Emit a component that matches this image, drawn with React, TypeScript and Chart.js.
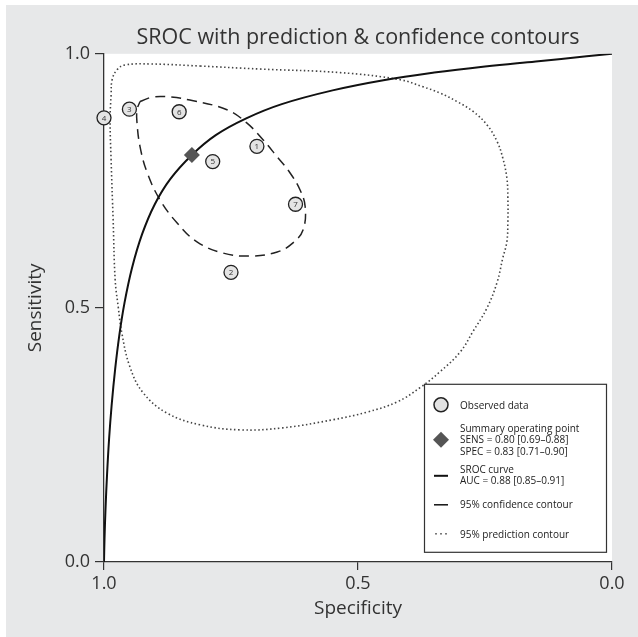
import React, { useEffect, useRef } from 'react';
import { Chart, registerables } from 'chart.js';

Chart.register(...registerables);

// Observed studies
const studyLabels = ['1', '2', '3', '4', '5', '6', '7'];
const studySpec = [0.699, 0.750, 0.950, 1.0, 0.786, 0.852, 0.623];
const studySens = [0.818, 0.570, 0.891, 0.874, 0.788, 0.886, 0.704];

// Summary operating point
const summarySpec = [0.827];
const summarySens = [0.801];

// SROC curve
const srocSpec = [1.0, 0.999, 0.997, 0.994, 0.99, 0.985, 0.978, 0.97, 0.96, 0.945, 0.925, 0.9, 0.87, 0.827, 0.78, 0.72, 0.65, 0.55, 0.45, 0.35, 0.25, 0.15, 0.05, 0.0];
const srocSens = [0.0, 0.045, 0.105, 0.172, 0.242, 0.308, 0.380, 0.445, 0.508, 0.578, 0.645, 0.704, 0.753, 0.801, 0.840, 0.873, 0.901, 0.928, 0.948, 0.963, 0.975, 0.985, 0.995, 1.0];

// 95% confidence contour
const confSpec = [0.929, 0.904, 0.870, 0.831, 0.758, 0.719, 0.687, 0.659, 0.634, 0.614, 0.604, 0.608, 0.628, 0.659, 0.713, 0.766, 0.817, 0.856, 0.890, 0.915, 0.929, 0.935, 0.935, 0.929];
const confSens = [0.906, 0.915, 0.915, 0.909, 0.890, 0.864, 0.831, 0.797, 0.766, 0.732, 0.699, 0.654, 0.628, 0.610, 0.602, 0.608, 0.630, 0.667, 0.713, 0.766, 0.817, 0.864, 0.890, 0.906];

// 95% prediction contour
const predSpec = [0.811, 0.693, 0.535, 0.417, 0.372, 0.339, 0.305, 0.274, 0.246, 0.226, 0.215, 0.207, 0.205, 0.205, 0.207, 0.215, 0.226, 0.246, 0.274, 0.299, 0.339, 0.378, 0.423, 0.482, 0.549, 0.648, 0.732, 0.811, 0.876, 0.923, 0.949, 0.965, 0.972, 0.978, 0.982, 0.986, 0.988, 0.986, 0.984, 0.974, 0.959, 0.909, 0.811];
const predSens = [0.976, 0.970, 0.963, 0.949, 0.935, 0.923, 0.906, 0.887, 0.860, 0.827, 0.795, 0.756, 0.717, 0.669, 0.630, 0.598, 0.551, 0.500, 0.453, 0.413, 0.374, 0.343, 0.315, 0.295, 0.280, 0.264, 0.260, 0.270, 0.293, 0.333, 0.384, 0.451, 0.502, 0.555, 0.673, 0.791, 0.870, 0.919, 0.949, 0.969, 0.978, 0.980, 0.976];

const tickValues = [0, 0.5, 1.0];

const titleText = 'SROC with prediction & confidence contours';
const xTitle = 'Specificity';
const yTitle = 'Sensitivity';

const legendObserved = ['Observed data'];
const legendSummary = ['Summary operating point', 'SENS = 0.80 [0.69\u20130.88]', 'SPEC = 0.83 [0.71\u20130.90]'];
const legendSroc = ['SROC curve', 'AUC = 0.88 [0.85\u20130.91]'];
const legendConf = ['95% confidence contour'];
const legendPred = ['95% prediction contour'];

const FONT = '"Open Sans", "Noto Sans", sans-serif';

const toPoints = (xs: number[], ys: number[]) => xs.map((x, i) => ({ x, y: ys[i] }));

const bgPlugin = {
  id: 'bgPlugin',
  beforeDraw(chart: any) {
    const { ctx, chartArea: a } = chart;
    ctx.save();
    ctx.fillStyle = '#ffffff';
    ctx.fillRect(0, 0, chart.width, chart.height);
    ctx.fillStyle = '#e7e8e9';
    ctx.fillRect(6, 5, chart.width - 6, chart.height - 5);
    ctx.fillStyle = '#ffffff';
    ctx.fillRect(a.left, a.top, a.right - a.left, a.bottom - a.top);
    ctx.restore();
  },
};

const labelPlugin = {
  id: 'labelPlugin',
  afterDatasetsDraw(chart: any) {
    const { ctx } = chart;
    const meta = chart.getDatasetMeta(1);
    ctx.save();
    ctx.font = `8px ${FONT}`;
    ctx.fillStyle = '#333';
    ctx.textAlign = 'center';
    ctx.textBaseline = 'middle';
    meta.data.forEach((el: any, i: number) => {
      ctx.fillText(studyLabels[i], el.x, el.y + 0.5);
    });
    ctx.restore();
  },
};

const legendPlugin = {
  id: 'customLegend',
  afterDraw(chart: any) {
    const { ctx, chartArea: a } = chart;
    const bx = a.left + 320;
    const by = a.top + 330;
    const bw = 182;
    const bh = 168;
    ctx.save();
    ctx.fillStyle = '#ffffff';
    ctx.fillRect(bx, by, bw, bh);
    ctx.strokeStyle = '#333';
    ctx.lineWidth = 1.2;
    ctx.strokeRect(bx + 0.5, by + 0.5, bw, bh);

    const sx = bx + 17;
    const tx = bx + 36;
    ctx.font = `10px ${FONT}`;
    ctx.fillStyle = '#222';
    ctx.textAlign = 'left';
    ctx.textBaseline = 'middle';

    // observed
    ctx.beginPath();
    ctx.arc(sx, by + 21, 7, 0, Math.PI * 2);
    ctx.fillStyle = '#e3e3e3';
    ctx.fill();
    ctx.strokeStyle = '#222';
    ctx.lineWidth = 1.5;
    ctx.stroke();
    ctx.fillStyle = '#222';
    ctx.fillText(legendObserved[0], tx, by + 22);

    // summary diamond
    ctx.beginPath();
    ctx.moveTo(sx, by + 48);
    ctx.lineTo(sx + 8, by + 56);
    ctx.lineTo(sx, by + 64);
    ctx.lineTo(sx - 8, by + 56);
    ctx.closePath();
    ctx.fillStyle = '#555';
    ctx.fill();
    ctx.fillStyle = '#222';
    legendSummary.forEach((t, i) => ctx.fillText(t, tx, by + 45 + i * 11.5));

    // SROC line
    ctx.strokeStyle = '#111';
    ctx.lineWidth = 2;
    ctx.beginPath();
    ctx.moveTo(sx - 7, by + 92);
    ctx.lineTo(sx + 7, by + 92);
    ctx.stroke();
    legendSroc.forEach((t, i) => ctx.fillText(t, tx, by + 86 + i * 11));

    // confidence
    ctx.lineWidth = 1.5;
    ctx.beginPath();
    ctx.moveTo(sx - 7, by + 121);
    ctx.lineTo(sx + 7, by + 121);
    ctx.stroke();
    ctx.fillText(legendConf[0], tx, by + 121);

    // prediction dots
    ctx.fillStyle = '#444';
    for (let k = -1; k <= 1; k++) {
      ctx.fillRect(sx + k * 5 - 0.75, by + 150 - 0.75, 1.5, 1.5);
    }
    ctx.fillStyle = '#222';
    ctx.fillText(legendPred[0], tx, by + 151);
    ctx.restore();
  },
};

export default function App() {
  const canvasRef = useRef<HTMLCanvasElement>(null);

  useEffect(() => {
    if (!canvasRef.current) return;
    const chart = new Chart(canvasRef.current, {
      type: 'scatter',
      data: {
        datasets: [
          {
            label: 'Summary operating point',
            data: toPoints(summarySpec, summarySens),
            pointStyle: 'rectRot',
            pointRadius: 8,
            backgroundColor: '#555',
            borderColor: '#555',
            borderWidth: 0,
            showLine: false,
            clip: false,
            order: 0,
          },
          {
            label: 'Observed data',
            data: toPoints(studySpec, studySens),
            pointStyle: 'circle',
            pointRadius: 7,
            backgroundColor: '#e4e4e4',
            borderColor: '#222',
            borderWidth: 1.3,
            showLine: false,
            clip: false,
            order: 1,
          },
          {
            type: 'line',
            label: 'SROC curve',
            data: toPoints(srocSpec, srocSens),
            pointRadius: 0,
            borderColor: '#111',
            borderWidth: 2,
            tension: 0.4,
            fill: false,
            order: 2,
          },
          {
            type: 'line',
            label: '95% confidence contour',
            data: toPoints(confSpec, confSens),
            pointRadius: 0,
            borderColor: '#222',
            borderWidth: 1.5,
            borderDash: [10, 6],
            tension: 0.4,
            fill: false,
            order: 3,
          },
          {
            type: 'line',
            label: '95% prediction contour',
            data: toPoints(predSpec, predSens),
            pointRadius: 0,
            borderColor: '#444',
            borderWidth: 1.6,
            borderDash: [1.5, 2.5],
            tension: 0.4,
            fill: false,
            order: 4,
          },
        ] as any,
      },
      options: {
        animation: false,
        responsive: false,
        maintainAspectRatio: false,
        layout: { padding: { top: 25, left: 0, right: 26, bottom: 0 } },
        plugins: {
          legend: { display: false },
          tooltip: { enabled: false },
          title: {
            display: true,
            text: titleText,
            fullSize: false,
            color: '#333',
            font: { family: FONT, size: 21.5, weight: 'normal' },
            padding: { top: 0, bottom: 3 },
          },
        },
        scales: {
          x: {
            type: 'linear',
            reverse: true,
            min: 0,
            max: 1,
            afterBuildTicks: (scale: any) => {
              scale.ticks = tickValues.map((v) => ({ value: v }));
            },
            afterFit: (scale: any) => {
              scale.height = 75;
            },
            ticks: {
              color: '#333',
              font: { family: FONT, size: 18 },
              padding: 3,
              maxRotation: 0,
              callback: (v: any) => Number(v).toFixed(1),
            },
            grid: { drawOnChartArea: false, drawTicks: true, tickLength: 8, color: '#333', lineWidth: 1.2 },
            border: { display: true, color: '#333', width: 1.3 },
            title: {
              display: true,
              text: xTitle,
              color: '#333',
              font: { family: FONT, size: 19 },
              padding: { top: 0, bottom: 17 },
            },
          },
          y: {
            type: 'linear',
            min: 0,
            max: 1,
            afterBuildTicks: (scale: any) => {
              scale.ticks = tickValues.map((v) => ({ value: v }));
            },
            afterFit: (scale: any) => {
              scale.width = 104;
            },
            ticks: {
              color: '#333',
              font: { family: FONT, size: 18 },
              padding: 5,
              callback: (v: any) => Number(v).toFixed(1),
            },
            grid: { drawOnChartArea: false, drawTicks: true, tickLength: 9, color: '#333', lineWidth: 1.2 },
            border: { display: true, color: '#333', width: 1.3 },
            title: {
              display: true,
              text: yTitle,
              color: '#333',
              font: { family: FONT, size: 19 },
              padding: { top: 24, bottom: 0 },
            },
          },
        },
      } as any,
      plugins: [bgPlugin, labelPlugin, legendPlugin],
    });
    return () => chart.destroy();
  }, []);

  return (
    <div style={{ position: 'fixed', left: 0, top: 0, width: 638, height: 637 }}>
      <canvas ref={canvasRef} width={638} height={637} style={{ width: 638, height: 637, display: 'block' }} />
    </div>
  );
}
